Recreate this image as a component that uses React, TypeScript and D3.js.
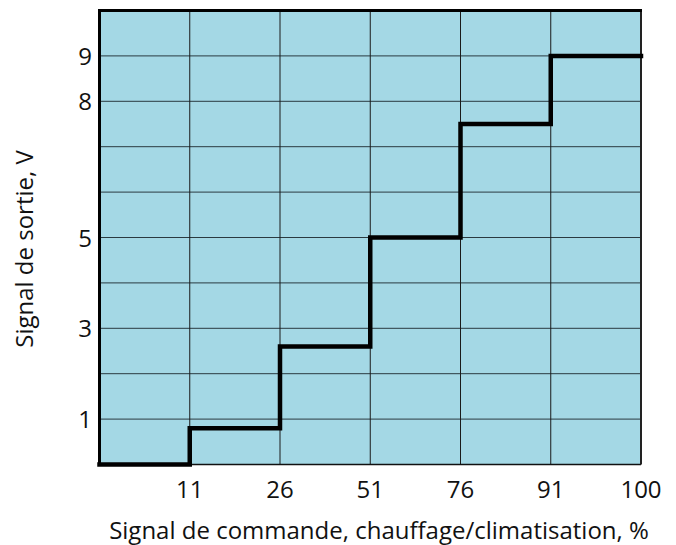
import React from "react";
import * as d3 from "d3";

const xLabels = ["", "11", "26", "51", "76", "91", "100"];
const stepValues = [0, 0.8, 2.6, 5, 7.5, 9];
const yTicks = [1, 3, 5, 8, 9];
const yGrid = [1, 2, 3, 4, 5, 6, 7, 8, 9];
const xTitle = "Signal de commande, chauffage/climatisation, %";
const yTitle = "Signal de sortie, V";

const W = 676;
const H = 545;
const L = 99.5;
const R = 641;
const T = 10.5;
const B = 464.5;

export default function App() {
  const x = d3.scaleLinear().domain([0, xLabels.length - 1]).range([L, R]);
  const y = d3.scaleLinear().domain([0, 10]).range([B, T]);
  const pts: [number, number][] = stepValues.map((v, i) => [i, v]);
  pts.push([xLabels.length - 1, stepValues[stepValues.length - 1]]);
  const line = d3
    .line<[number, number]>()
    .x((d) => x(d[0]))
    .y((d) => y(d[1]))
    .curve(d3.curveStepAfter);
  const font = "'Open Sans', 'Noto Sans', sans-serif";
  return (
    <svg
      width={W}
      height={H}
      style={{ position: "absolute", left: 0, top: 0, background: "#fff" }}
      fontFamily={font}
    >
      <rect x={L} y={T} width={R - L} height={B - T} fill="#a4d8e5" />
      {yGrid.map((v) => (
        <line key={"gy" + v} x1={L} x2={R} y1={y(v)} y2={y(v)} stroke="#2a3a40" strokeWidth={1} />
      ))}
      {xLabels.map((_, i) =>
        i > 0 && i < xLabels.length - 1 ? (
          <line key={"gx" + i} x1={x(i)} x2={x(i)} y1={T} y2={B} stroke="#1a1a1a" strokeWidth={1} />
        ) : null
      )}
      <line x1={L} x2={R} y1={B} y2={B} stroke="#111" strokeWidth={1.5} />
      <line x1={R} x2={R} y1={T} y2={B} stroke="#222" strokeWidth={2} />
      <line x1={L - 1} x2={R + 1} y1={T} y2={T} stroke="#000" strokeWidth={3} />
      <line x1={L} x2={L} y1={T - 1.5} y2={B + 1} stroke="#000" strokeWidth={3} />
      <path d={line(pts) || ""} fill="none" stroke="#000" strokeWidth={4.5} strokeLinejoin="miter" strokeLinecap="square" />
      {yTicks.map((v) => (
        <text key={"ty" + v} x={92} y={y(v) + 9} textAnchor="end" fontSize={24} fill="#111">
          {v}
        </text>
      ))}
      {xLabels.map((s, i) =>
        s ? (
          <text key={"tx" + i} x={x(i)} y={498} textAnchor="middle" fontSize={24} fill="#111">
            {s}
          </text>
        ) : null
      )}
      <text x={379} y={538.5} textAnchor="middle" fontSize={24} fill="#111">
        {xTitle}
      </text>
      <text
        transform={`translate(33, 249) rotate(-90)`}
        textAnchor="middle"
        fontSize={24}
        fill="#111"
      >
        {yTitle}
      </text>
    </svg>
  );
}
